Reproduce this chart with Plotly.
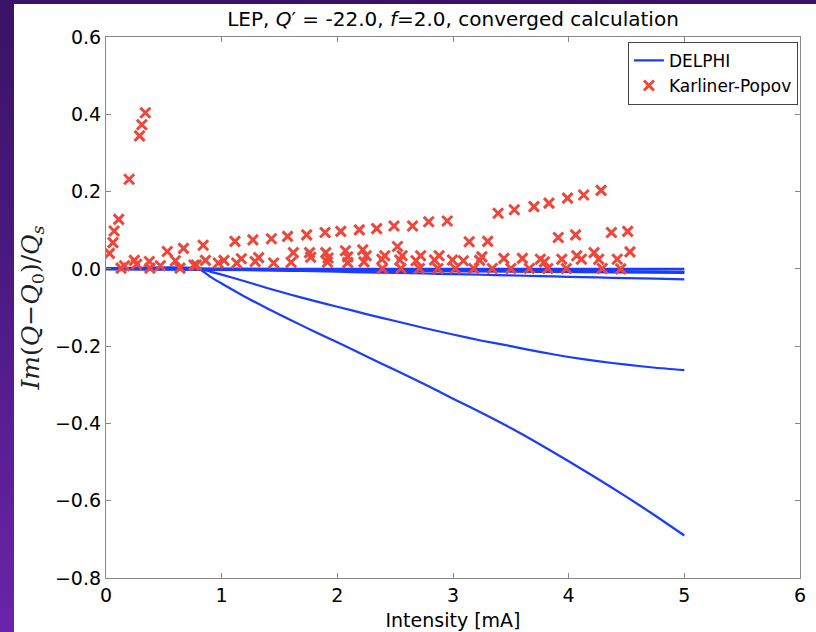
import plotly.graph_objects as go

# DELPHI curves (Im(Q-Q0)/Qs vs intensity)
delphi_I = [0.0, 0.8, 0.9, 1.0, 1.2, 1.4, 1.6, 1.8, 2.0, 2.25, 2.5, 2.75, 3.0, 3.25, 3.5,
            3.75, 4.0, 4.25, 4.5, 4.75, 5.0]
delphi_flat0 = [0] * 21
delphi_flat1 = [0, -0.0005, -0.0007, -0.001, -0.0013, -0.0017, -0.002, -0.0023, -0.0027, -0.0031,
                -0.0035, -0.004, -0.0045, -0.005, -0.0055, -0.006, -0.0065, -0.007, -0.0075,
                -0.008, -0.0085]
delphi_small = [0, 0, -0.0007, -0.0013, -0.0025, -0.0037, -0.005, -0.0062, -0.0075, -0.009,
                -0.0105, -0.012, -0.0135, -0.0152, -0.017, -0.0187, -0.0205, -0.0222, -0.024,
                -0.0255, -0.027]
delphi_mid = [0, 0, -0.007, -0.015, -0.032, -0.05, -0.067, -0.083, -0.098, -0.117, -0.135,
              -0.153, -0.17, -0.186, -0.2, -0.215, -0.228, -0.239, -0.248, -0.256, -0.262]
delphi_low = [0, 0, -0.02, -0.038, -0.072, -0.103, -0.133, -0.162, -0.19, -0.226, -0.262,
              -0.298, -0.336, -0.373, -0.412, -0.454, -0.498, -0.543, -0.59, -0.639, -0.69]

# Karliner-Popov points
kp_I = [
    0.03, 0.06, 0.07, 0.11, 0.20, 0.29, 0.31, 0.34,
    0.13, 0.16, 0.245, 0.265, 0.375, 0.38, 0.47, 0.53, 0.60, 0.64, 0.67,
    0.76, 0.78, 0.84, 0.86, 0.97, 1.02,
    1.115, 1.27, 1.43, 1.57, 1.735, 1.894, 2.03, 2.19, 2.34, 2.49, 2.65, 2.79, 2.95,
    3.14, 3.30, 3.39, 3.53, 3.70, 3.83, 3.99, 4.13, 4.28, 4.37, 4.51, 3.91, 4.06,
    1.62, 1.76, 1.90, 2.07, 2.22, 2.52, 4.22, 4.53,
    1.13, 1.17, 1.29, 1.32, 1.45, 1.60, 1.77, 1.92, 1.915, 2.09, 2.09, 2.25, 2.23,
    2.385, 2.41, 2.54, 2.56, 2.68, 2.72, 2.84, 2.88, 2.995, 3.09, 3.23, 3.25, 3.44,
    3.60, 3.755, 3.79, 3.94, 4.07, 4.11, 4.26, 4.42,
    2.39, 2.55, 2.71, 2.87, 3.02, 3.18, 3.34, 3.50, 3.66, 3.82, 3.98, 4.29, 4.45,
]
kp_val = [
    0.040, 0.068, 0.098, 0.128, 0.232, 0.344, 0.373, 0.404,
    0.002, 0.008, 0.022, 0.012, 0.019, 0.002, 0.008, 0.045, 0.021, 0.002, 0.053,
    0.010, 0.010, 0.061, 0.022, 0.015, 0.022,
    0.071, 0.075, 0.078, 0.084, 0.088, 0.094, 0.097, 0.101, 0.104, 0.111, 0.111, 0.122, 0.124,
    0.070, 0.071, 0.144, 0.153, 0.161, 0.170, 0.183, 0.191, 0.203, 0.094, 0.097, 0.081, 0.088,
    0.042, 0.042, 0.042, 0.047, 0.049, 0.058, 0.042, 0.044,
    0.015, 0.026, 0.019, 0.029, 0.015, 0.017, 0.030, 0.028, 0.017, 0.031, 0.016, 0.034, 0.018,
    0.025, 0.034, 0.023, 0.034, 0.021, 0.034, 0.023, 0.034, 0.023, 0.021, 0.022, 0.031, 0.027,
    0.027, 0.025, 0.018, 0.025, 0.034, 0.025, 0.025, 0.025,
    0.001, 0.001, 0.001, 0.001, 0.001, 0.001, 0.001, 0.001, 0.001, 0.001, 0.001, 0.001, 0.0,
]

x_ticks = [0, 1, 2, 3, 4, 5, 6]
y_ticks = [-0.8, -0.6, -0.4, -0.2, 0.0, 0.2, 0.4, 0.6]

BLUE = "#1a3cff"
RED = "#f0463a"
FONT = "DejaVu Sans"

fig = go.Figure()
first = True
for ys in [delphi_flat0, delphi_flat1, delphi_small, delphi_mid, delphi_low]:
    fig.add_trace(go.Scatter(
        x=delphi_I, y=ys, mode="lines",
        line=dict(color=BLUE, width=2.2, shape="spline", smoothing=0.6),
        name="DELPHI", showlegend=first, legendgroup="d"))
    first = False
# thicken the band at zero
fig.add_trace(go.Scatter(x=delphi_I, y=delphi_flat1, mode="lines",
                         line=dict(color=BLUE, width=3.5), showlegend=False, hoverinfo="skip"))

fig.add_trace(go.Scatter(
    x=kp_I, y=kp_val, mode="markers", name="Karliner-Popov",
    marker=dict(symbol="x-thin", size=10, line=dict(color=RED, width=3), color=RED)))

# page: purple frame (page background) with the white figure offset by 14px / 4px
OFF_X, OFF_Y = 14, 4
W, H = 816 - OFF_X, 632 - OFF_Y
L, R, T, B = 106 - OFF_X, 16, 37 - OFF_Y, 54

axis_common = dict(
    showgrid=False, zeroline=False, showline=True, linecolor="#888888", linewidth=1.2,
    mirror="ticks", ticks="inside", ticklen=5, tickcolor="#888888", automargin=False,
    tickfont=dict(family=FONT, size=19, color="black"),
)

fig.update_layout(
    width=W, height=H,
    margin=dict(l=L, r=R, t=T, b=B, autoexpand=False),
    paper_bgcolor="white", plot_bgcolor="white",
    title=dict(text="LEP, <i>Q</i>\u2032 = -22.0, <i>f</i>=2.0, converged calculation",
               x=(L + (W - L - R) / 2) / W, xanchor="center", y=1 - 15 / H, yanchor="middle",
               font=dict(family=FONT, size=20, color="black")),
    xaxis=dict(range=[0, 6], tickvals=x_ticks, ticktext=[str(v) for v in x_ticks],
               title=dict(text="Intensity [mA]", font=dict(family=FONT, size=19, color="black"),
                          standoff=8),
               **axis_common),
    yaxis=dict(range=[-0.8, 0.6], tickvals=y_ticks,
               ticktext=[("\u2212%.1f" % -v) if v < 0 else "%.1f" % v for v in y_ticks],
               title=dict(text="<i>Im</i>(<i>Q</i>\u2212<i>Q</i><sub>0</sub>)/<i>Q<sub>s</sub></i>",
                          font=dict(family="DejaVu Serif", size=25, color="#222"),
                          standoff=8),
               **axis_common),
    legend=dict(x=0.997, y=0.991, xanchor="right", yanchor="top",
                bgcolor="white", bordercolor="#444", borderwidth=1,
                font=dict(family=FONT, size=17, color="black"),
                tracegroupgap=0, itemwidth=30),
    showlegend=True,
)

post = (
    "document.body.style.margin='0px';"
    "document.body.style.overflow='hidden';"
    "document.documentElement.style.height='100%';"
    "document.documentElement.style.background="
    "'linear-gradient(to bottom, #3a1266 0%, #4a1980 40%, #6a24aa 100%)';"
    "document.body.style.background='transparent';"
    "var g=document.querySelector('.plotly-graph-div');"
    "g.style.position='absolute';"
    f"g.style.left='{OFF_X}px';g.style.top='{OFF_Y}px';"
)

fig.write_html("out.html", config={"displayModeBar": False}, post_script=post)
